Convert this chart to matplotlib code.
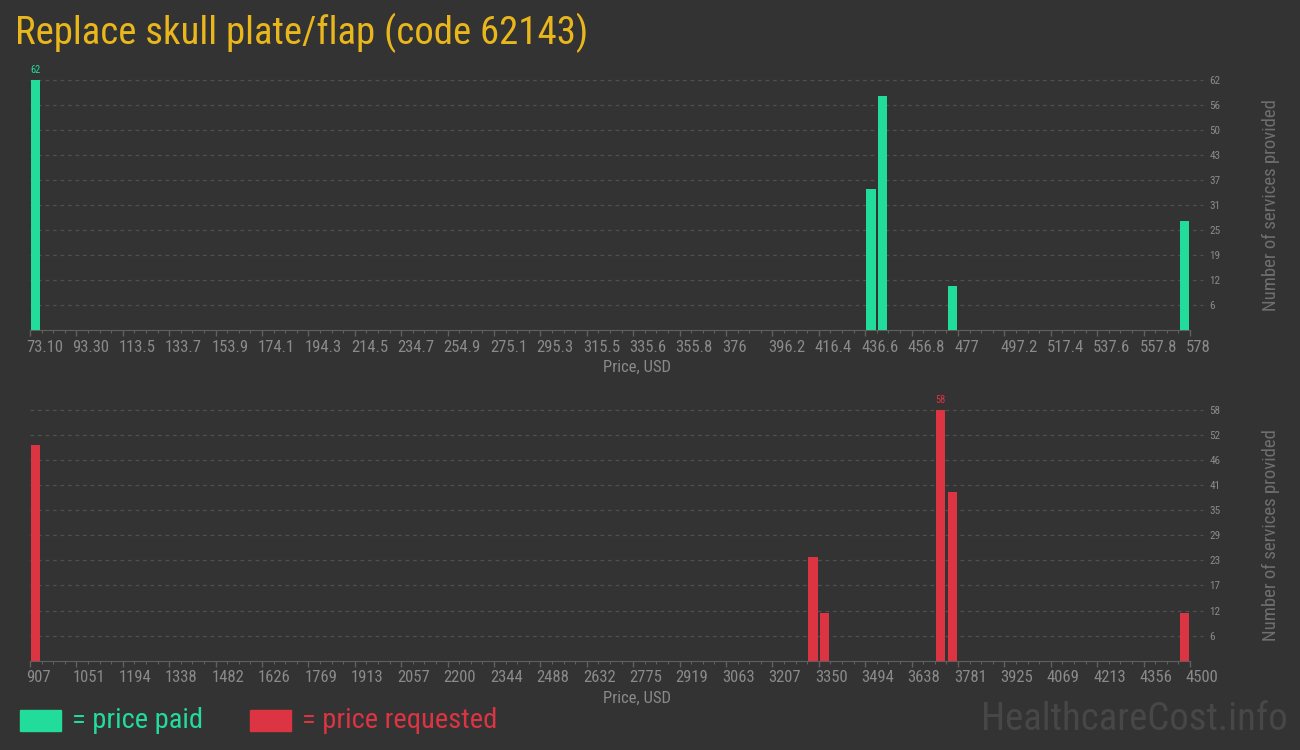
import numpy as np
import matplotlib
matplotlib.use("Agg")
import matplotlib.pyplot as plt
from matplotlib.patches import Rectangle
from matplotlib.transforms import ScaledTranslation

# -------------------------
# Data
# -------------------------
title = "Replace skull plate/flap (code 62143)"

paid_ticks = ["73.10", "93.30", "113.5", "133.7", "153.9", "174.1", "194.3",
              "214.5", "234.7", "254.9", "275.1", "295.3", "315.5", "335.6",
              "355.8", "376", "396.2", "416.4", "436.6", "456.8", "477",
              "497.2", "517.4", "537.6", "557.8", "578"]
paid_prices = [75, 438, 443, 474, 575]
paid_counts = [62, 35, 58, 11, 27]

req_ticks = ["907", "1051", "1194", "1338", "1482", "1626", "1769", "1913",
             "2057", "2200", "2344", "2488", "2632", "2775", "2919", "3063",
             "3207", "3350", "3494", "3638", "3781", "3925", "4069", "4213",
             "4356", "4500"]
req_prices = [915, 3320, 3355, 3715, 3750, 4470]
req_counts = [50, 24, 11, 58, 39, 11]

BG = "#333333"
GREEN = "#22dc9b"
RED = "#dc3442"
GOLD = "#e9b61c"
GREY = "#8a8a8a"

plt.rcParams['font.family'] = ['Roboto Condensed', 'Liberation Sans Narrow',
                               'Roboto', 'DejaVu Sans']

fig = plt.figure(figsize=(13, 7.5), dpi=100, facecolor=BG)


def histo(rect, ticks, prices, counts, color):
    ax = fig.add_axes(rect)
    ax.set_facecolor(BG)
    lo, hi = float(ticks[0]), float(ticks[-1])
    nbins = 100
    binw = (hi - lo) / nbins
    idx = [min(int((p - lo) / binw), nbins - 1) for p in prices]
    centers = [lo + (i + 0.5) * binw for i in idx]
    ax.bar(centers, counts, width=binw * 0.78, color=color, zorder=3)

    top = max(counts)
    ax.set_xlim(lo, hi)
    ax.set_ylim(0, top)

    # dashed grid lines, a bit past the right edge
    levels = [top * k / 10 for k in range(1, 11)]
    for lv in levels:
        ax.plot([0, 1.011], [lv, lv], transform=ax.get_yaxis_transform(),
                color="#505050", lw=0.9, ls=(0, (3, 3)), clip_on=False,
                zorder=1)

    ax.yaxis.tick_right()
    ax.set_yticks(levels)
    ax.set_yticklabels([str(int(round(v))) for v in levels])
    ax.tick_params(axis='y', length=0, pad=14, labelsize=8, labelcolor=GREY)

    major = np.linspace(lo, hi, len(ticks))
    ax.set_xticks(major)
    ax.set_xticklabels(ticks, ha='left')
    ax.set_xticks(np.linspace(lo, hi, (len(ticks) - 1) * 4 + 1), minor=True)
    ax.tick_params(axis='x', which='major', length=4, width=1, color="#606060",
                   pad=3, labelsize=12, labelcolor=GREY)
    ax.tick_params(axis='x', which='minor', length=2, width=0.8,
                   color="#606060")
    shift = ScaledTranslation(-4 / 100, 0, fig.dpi_scale_trans)
    for lbl in ax.get_xticklabels():
        lbl.set_transform(lbl.get_transform() + shift)

    for s in ['top', 'right', 'left']:
        ax.spines[s].set_visible(False)
    ax.spines['bottom'].set_color("#606060")

    # value over the tallest bar
    k = int(np.argmax(counts))
    ax.text(centers[k], top, str(top), color=color, fontsize=7.5,
            ha='center', va='bottom',
            transform=ax.transData + ScaledTranslation(0, 5 / 100, fig.dpi_scale_trans))

    ax.set_xlabel("Price, USD", color=GREY, fontsize=12, labelpad=4)
    ax.xaxis.label.set_x(0.523)
    ax.yaxis.set_label_position('right')
    ax.set_ylabel("Number of services provided", color="#6f6f6f",
                  fontsize=13.5, labelpad=30, rotation=90)
    return ax


histo([30 / 1300, 1 - 330 / 750, 1160 / 1300, 250 / 750],
      paid_ticks, paid_prices, paid_counts, GREEN)
histo([30 / 1300, 1 - 660.7 / 750, 1160 / 1300, 250.7 / 750],
      req_ticks, req_prices, req_counts, RED)

fig.text(15 / 1300, 1 - 33 / 750, title, color=GOLD, fontsize=28,
         ha='left', va='center')

# legend
fig.patches.append(Rectangle((20 / 1300, 1 - 731 / 750), 41 / 1300, 21 / 750,
                             transform=fig.transFigure, color=GREEN))
fig.text(72 / 1300, 1 - 720 / 750, "= price paid", color=GREEN,
         fontsize=20.5, ha='left', va='center')
fig.patches.append(Rectangle((250 / 1300, 1 - 731 / 750), 41 / 1300, 21 / 750,
                             transform=fig.transFigure, color=RED))
fig.text(302 / 1300, 1 - 720 / 750, "= price requested", color=RED,
         fontsize=20.5, ha='left', va='center')

fig.text(1288 / 1300, 1 - 720 / 750, "HealthcareCost.info", color="#474747",
         fontsize=28, ha='right', va='center')

fig.savefig("out.png", dpi=100, facecolor=BG)
